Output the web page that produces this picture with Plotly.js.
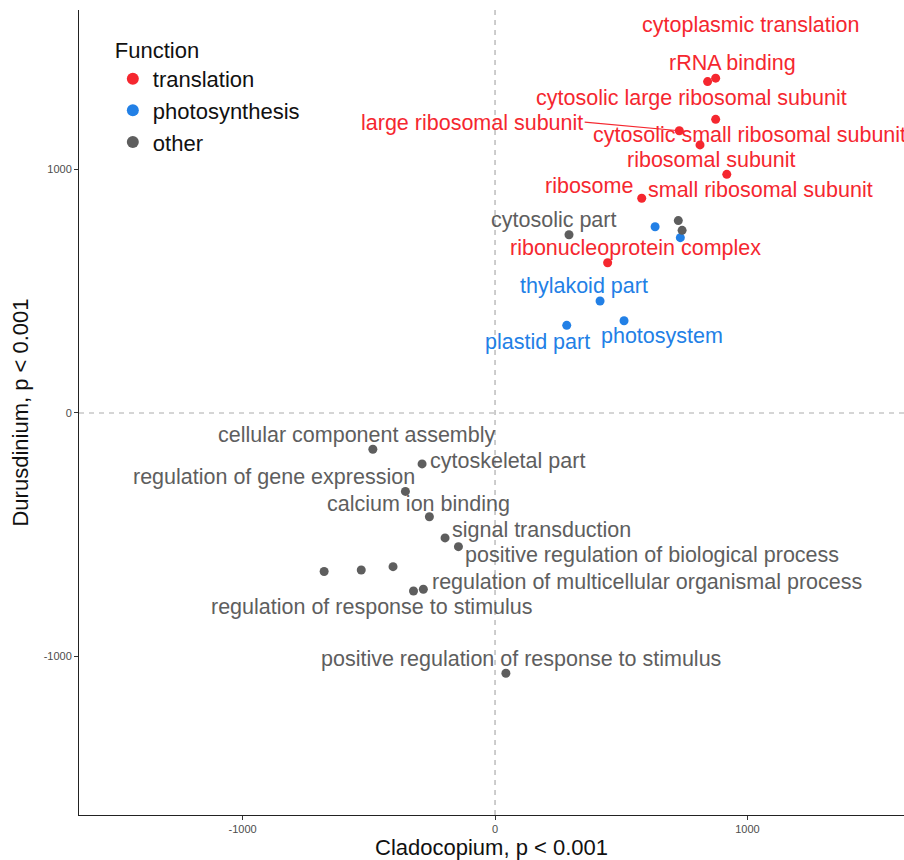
<!DOCTYPE html>
<html>
<head>
<meta charset="utf-8">
<script src="https://cdn.plot.ly/plotly-3.0.1.min.js"></script>
<style>html,body{margin:0;padding:0;background:#fff;}#chart{width:904px;height:860px;}</style>
</head>
<body>
<div id="chart"></div>
<script>
// ---------- data ----------
const translationX = [874, 842, 874, 730, 812, 918, 581, 446];
const translationY = [1375, 1361, 1206, 1159, 1101, 980, 882, 617];

const photosynthesisX = [634, 734, 416, 284, 511];
const photosynthesisY = [765, 720, 460, 360, 379];

const otherX = [293, 726, 741, -484, -289, -355, -260, -198, -145, -677, -530, -404, -323, -284, 43];
const otherY = [732, 790, 750, -149, -209, -322, -426, -513, -549, -651, -645, -631, -731, -724, -1069];

const groupNames = ["translation", "photosynthesis", "other"];

const translationLabels = ["cytoplasmic translation", "rRNA binding", "cytosolic large ribosomal subunit",
  "large ribosomal subunit", "cytosolic small ribosomal subunit", "ribosomal subunit", "ribosome",
  "small ribosomal subunit", "ribonucleoprotein complex"];
const photosynthesisLabels = ["thylakoid part", "plastid part", "photosystem"];
const otherLabels = ["cytosolic part", "cellular component assembly", "cytoskeletal part",
  "regulation of gene expression", "calcium ion binding", "signal transduction",
  "positive regulation of biological process", "regulation of multicellular organismal process",
  "regulation of response to stimulus", "positive regulation of response to stimulus"];

const xTicks = [-1000, 0, 1000];
const yTicks = [-1000, 0, 1000];

// ---------- label placement (layout) ----------
const translationLabelPos = [[1010, 1593], [939, 1437], [780, 1294], [-91, 1191], [1006, 1142],
  [859, 1039], [372, 932], [1053, 916], [558, 678]];
const photosynthesisLabelPos = [[352, 522], [170, 292], [660, 316]];
const otherLabelPos = [[230, 793], [-547, -90], [51, -197], [-876, -263], [-305, -374], [186, -480],
  [622, -583], [602, -694], [-491, -797], [103, -1010]];

// ---------- styles ----------
const colors = {translation: "#F5272F", photosynthesis: "#2280E6", other: "#5E5E5E"};
const FONT = "Liberation Sans, Arial, sans-serif";

const traces = [
  {x: translationX, y: translationY, name: groupNames[0], color: colors.translation},
  {x: photosynthesisX, y: photosynthesisY, name: groupNames[1], color: colors.photosynthesis},
  {x: otherX, y: otherY, name: groupNames[2], color: colors.other}
].map(t => ({
  type: "scatter", mode: "markers", x: t.x, y: t.y, name: t.name,
  marker: {color: t.color, size: 9}, hoverinfo: "skip", cliponaxis: true
}));

const annotations = [];
function addLabels(labels, pos, color) {
  labels.forEach((lab, i) => {
    annotations.push({x: pos[i][0], y: pos[i][1], xref: "x", yref: "y", text: lab,
      showarrow: false, font: {family: FONT, size: 21.5, color: color}, xanchor: "center", yanchor: "middle"});
  });
}
addLabels(translationLabels, translationLabelPos, colors.translation);
addLabels(photosynthesisLabels, photosynthesisLabelPos, colors.photosynthesis);
addLabels(otherLabels, otherLabelPos, colors.other);

// leader segment for "large ribosomal subunit" to its point
annotations.push({x: translationX[3], y: translationY[3], xref: "x", yref: "y",
  ax: 349, ay: 1195, axref: "x", ayref: "y", text: "", showarrow: true, arrowhead: 0,
  arrowwidth: 1.2, arrowcolor: colors.translation, standoff: 0});

const dashColor = "#ABABAB";
const layout = {
  width: 904, height: 860,
  margin: {l: 79, r: 0, t: 10, b: 45},
  paper_bgcolor: "#fff", plot_bgcolor: "#fff",
  font: {family: FONT},
  showlegend: true,
  legend: {
    x: 0.041, y: 0.976, xanchor: "left", yanchor: "top",
    bgcolor: "rgba(0,0,0,0)", borderwidth: 0,
    title: {text: "Function", font: {family: FONT, size: 22, color: "#111"}},
    font: {family: FONT, size: 22, color: "#111"},
    itemsizing: "constant", tracegroupgap: 0
  },
  xaxis: {
    range: [-1648, 1620], tickvals: xTicks, ticktext: xTicks.map(String),
    showgrid: false, zeroline: false, showline: true, linecolor: "#222", linewidth: 1,
    ticks: "outside", ticklen: 4, tickcolor: "#333",
    tickfont: {family: FONT, size: 11, color: "#4D4D4D"},
    title: {text: "Cladocopium, p < 0.001", font: {family: FONT, size: 22, color: "#111"}, standoff: 6},
    automargin: false
  },
  yaxis: {
    range: [-1651, 1655], tickvals: yTicks, ticktext: yTicks.map(String),
    showgrid: false, zeroline: false, showline: true, linecolor: "#222", linewidth: 1,
    ticks: "outside", ticklen: 4, tickcolor: "#333",
    tickfont: {family: FONT, size: 11, color: "#4D4D4D"},
    title: {text: "Durusdinium, p < 0.001", font: {family: FONT, size: 22, color: "#111"}, standoff: 8},
    automargin: false
  },
  shapes: [
    {type: "line", xref: "x", yref: "paper", x0: 0, x1: 0, y0: 0, y1: 1, layer: "below",
      line: {color: dashColor, width: 1.2, dash: "5px,5px"}},
    {type: "line", xref: "paper", yref: "y", x0: 0, x1: 1, y0: 0, y1: 0, layer: "below",
      line: {color: dashColor, width: 1.2, dash: "5px,5px"}}
  ],
  annotations: annotations
};

Plotly.newPlot("chart", traces, layout, {displayModeBar: false, staticPlot: true});
</script>
</body>
</html>
